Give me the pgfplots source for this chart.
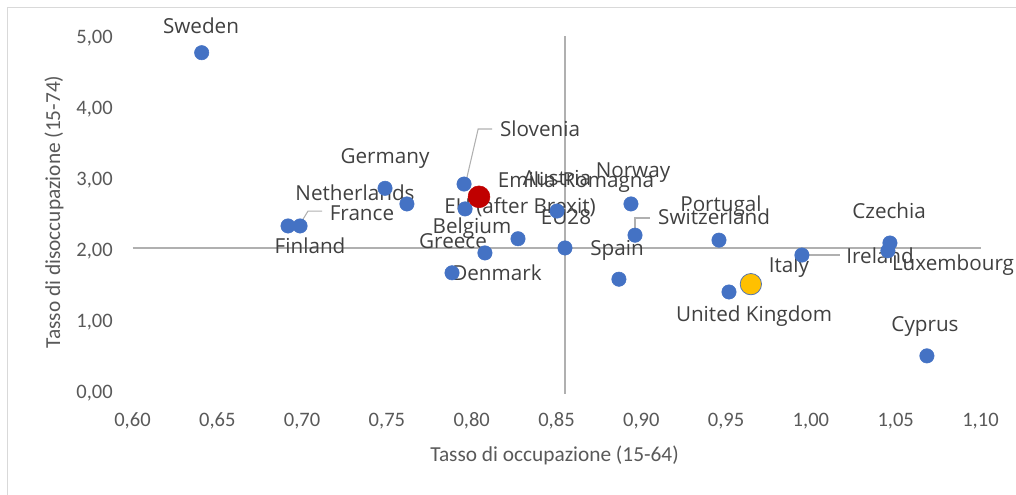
\documentclass[border=0pt]{standalone}
\usepackage{fontspec}
\setmainfont{Carlito}
\newfontfamily\lab{Open Sans}
\usepackage{pgfplots}
\pgfplotsset{compat=1.18}
\definecolor{ptblue}{HTML}{4472C4}
\definecolor{ptred}{HTML}{C00000}
\definecolor{ptyel}{HTML}{FFC000}
\definecolor{txtgray}{HTML}{595959}
\definecolor{lblgray}{HTML}{404040}
\definecolor{refgray}{HTML}{B0B0B0}
\definecolor{framegray}{HTML}{D9D9D9}
\tikzset{lbl/.style={anchor=base, yshift=-5.6pt, inner sep=0pt, text=lblgray, font=\lab\fontsize{15.5}{18}\selectfont}}
\begin{document}
\begin{tikzpicture}
\useasboundingbox (0,0) rectangle (762pt,370.5pt);
\draw[framegray, line width=0.8pt] (5.6pt,-5pt) -- (5.6pt,365.2pt) -- (775pt,365.2pt);
\begin{axis}[
  at={(99.375pt,75.375pt)}, anchor=south west,
  scale only axis, width=636pt, height=266.25pt,
  xmin=0.6, xmax=1.1, ymin=0, ymax=5,
  axis line style={draw=none}, major tick length=0pt,
  xtick={0.6,0.65,0.7,0.75,0.8,0.85,0.9,0.95,1.0,1.05,1.1},
  ytick={0,1,2,3,4,5},
  /pgf/number format/assume math mode=true,
  /pgf/number format/.cd, fixed, fixed zerofill, precision=2, use comma,
  /pgfplots/.cd,
  tick label style={font=\fontsize{15.4}{18}\selectfont, text=txtgray},
  xticklabel style={anchor=center, inner sep=0pt, yshift=-20.4pt},
  yticklabel style={anchor=east, inner sep=0pt, xshift=-14.6pt},
  clip=false,
]
% reference lines
\addplot[refgray, line width=1.1pt, forget plot] coordinates {(0.6,2.05) (1.1,2.05)};
\addplot[refgray, line width=1.1pt, forget plot] coordinates {(0.855,0) (0.855,5.03)};
% leader lines
\draw[refgray, line width=0.8pt] (axis cs:0.7967,2.993) -- (axis cs:0.8038,3.725) -- (axis cs:0.8121,3.725);
\draw[refgray, line width=0.8pt] (axis cs:0.6988,2.387) -- (axis cs:0.7035,2.570) -- (axis cs:0.7118,2.570);
\draw[refgray, line width=0.8pt] (axis cs:0.8963,2.246) -- (axis cs:0.8963,2.472) -- (axis cs:0.9051,2.472);
\draw[refgray, line width=0.8pt] (axis cs:0.9947,1.951) -- (axis cs:1.0172,1.951);
% countries
\addplot[only marks, mark=*, mark size=5.4pt, color=ptblue, mark options={draw=ptblue, fill=ptblue}] coordinates {
(0.6408,4.80) (0.6917,2.36) (0.6988,2.36) (0.7489,2.89) (0.7618,2.67)
(0.7955,2.95) (0.7961,2.60) (0.8273,2.18) (0.8078,1.98) (0.7884,1.70)
(0.8550,2.05) (0.8503,2.57) (0.8939,2.67) (0.8963,2.23) (0.8868,1.61)
(0.9458,2.16) (0.9947,1.95) (1.0466,2.12) (1.0454,2.01) (0.9517,1.43)
(1.0684,0.53)
};
% Emilia-Romagna
\addplot[only marks, mark=*, mark size=8.2pt, mark options={draw=ptred, fill=ptred}] coordinates {(0.8043,2.77)};
% Italy
\addplot[only marks, mark=*, mark size=8pt, mark options={draw=ptblue!70!gray, fill=ptyel, line width=0.6pt}] coordinates {(0.9646,1.54)};
% labels
\node[lbl] at (axis cs:0.6404,5.176) {Sweden};
\node[lbl] at (axis cs:0.7489,3.345) {Germany};
\node[lbl] at (axis cs:0.7312,2.824) {Netherlands};
\node[lbl] at (axis cs:0.7353,2.542) {France};
\node[lbl] at (axis cs:0.7047,2.077) {Finland};
\node[lbl] at (axis cs:0.8403,3.725) {Slovenia};
\node[lbl] at (axis cs:0.8615,3.007) {Emilia-Romagna};
\node[lbl] at (axis cs:0.8503,3.035) {Austria};
\node[lbl] at (axis cs:0.8951,3.148) {Norway};
\node[lbl] at (axis cs:0.8285,2.641) {EU (after Brexit)};
\node[lbl] at (axis cs:0.8556,2.486) {EU28};
\node[lbl] at (axis cs:0.8002,2.359) {Belgium};
\node[lbl] at (axis cs:0.7890,2.148) {Greece};
\node[lbl] at (axis cs:0.8149,1.697) {Denmark};
\node[lbl] at (axis cs:0.8857,2.049) {Spain};
\node[lbl] at (axis cs:0.9470,2.669) {Portugal};
\node[lbl] at (axis cs:0.9429,2.486) {Switzerland};
\node[lbl] at (axis cs:1.0461,2.570) {Czechia};
\node[lbl] at (axis cs:1.0408,1.937) {Ireland};
\node[lbl] at (axis cs:1.0838,1.838) {Luxembourg};
\node[lbl] at (axis cs:0.9871,1.810) {Italy};
\node[lbl] at (axis cs:0.9665,1.120) {United Kingdom};
\node[lbl] at (axis cs:1.0673,0.979) {Cyprus};
\end{axis}
\node[text=txtgray, font=\fontsize{16}{19}\selectfont, rotate=90] at (40.5pt,211.5pt) {Tasso di disoccupazione (15-74)};
\node[text=txtgray, font=\fontsize{16}{19}\selectfont] at (415.9pt,29.25pt) {Tasso di occupazione (15-64)};
\end{tikzpicture}
\end{document}
